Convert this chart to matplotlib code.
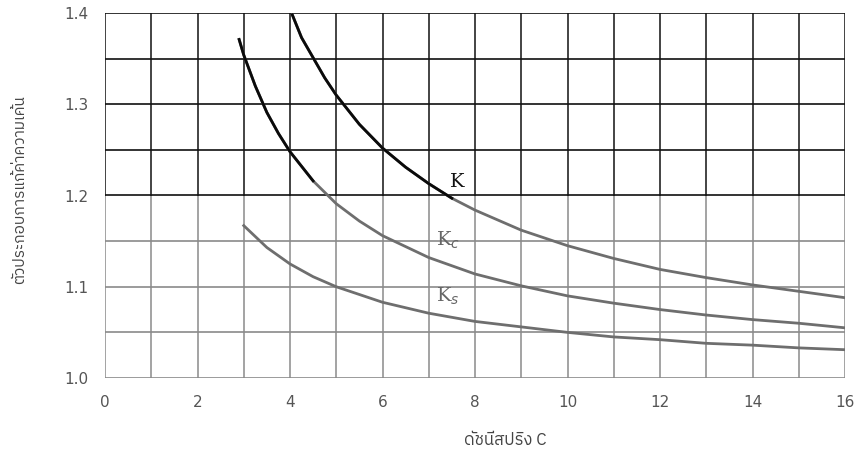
import numpy as np
import matplotlib
matplotlib.use("Agg")
import matplotlib.pyplot as plt
from matplotlib import font_manager
from matplotlib.ft2font import FT2Font

# Spring index C and correction factors
c_k = [4.05, 4.25, 4.5, 4.75, 5, 5.5, 6, 6.5, 7, 7.5, 8, 9, 10, 11, 12, 13, 14, 15, 16]
k_vals = [1.398, 1.373, 1.351, 1.329, 1.310, 1.278, 1.252, 1.231, 1.213, 1.197, 1.184,
          1.162, 1.145, 1.131, 1.119, 1.110, 1.102, 1.095, 1.088]

c_kc = [2.9, 3.0, 3.25, 3.5, 3.75, 4, 4.5, 5, 5.5, 6, 7, 8, 9, 10, 11, 12, 13, 14, 15, 16]
kc_vals = [1.371, 1.354, 1.320, 1.291, 1.268, 1.248, 1.216, 1.191, 1.172, 1.156, 1.132,
           1.114, 1.101, 1.090, 1.082, 1.075, 1.069, 1.064, 1.060, 1.055]

c_ks = [3.0, 3.5, 4, 4.5, 5, 6, 7, 8, 9, 10, 11, 12, 13, 14, 15, 16]
ks_vals = [1.167, 1.143, 1.125, 1.111, 1.100, 1.083, 1.071, 1.062, 1.056, 1.050, 1.045,
           1.042, 1.038, 1.036, 1.033, 1.031]

x_ticks = [0, 2, 4, 6, 8, 10, 12, 14, 16]
x_labels = ["0", "2", "4", "6", "8", "10", "12", "14", "16"]
y_ticks = [1.0, 1.1, 1.2, 1.3, 1.4]
y_labels = ["1.0", "1.1", "1.2", "1.3", "1.4"]

x_label = "ดัชนีสปริง C"
y_label = "ตัวประกอบการแก้ค่าความเค้น"


def find_thai_font():
    "Look for any installed font that has Thai glyphs."
    preferred = []
    others = []
    for f in font_manager.fontManager.ttflist:
        try:
            cmap = FT2Font(f.fname).get_charmap()
        except Exception:
            continue
        if 0x0E14 in cmap and 0x0E31 in cmap:
            if "Sans" in f.name or "Thai" in f.name:
                preferred.append(f.name)
            else:
                others.append(f.name)
    names = preferred + others
    return names[0] if names else "DejaVu Sans"


thai_font = find_thai_font()

fig = plt.figure(figsize=(8.59, 4.63), dpi=100)
ax = fig.add_axes([105 / 859, 1 - 378 / 463, 740 / 859, 365 / 463])

dark = "#111111"
light = "#8a8a8a"

# grid: upper half printed darker than the lower half in the scan
grid_x = np.arange(0, 17, 1)
grid_y = np.arange(1.0, 1.401, 0.05)
ax.vlines(grid_x, 1.2, 1.4, color=dark, lw=1.1, zorder=1)
ax.vlines(grid_x, 1.0, 1.2, color=light, lw=1.1, zorder=1)
for gy in grid_y:
    ax.axhline(gy, color=dark if gy > 1.19 else light, lw=1.2, zorder=1)

for cx, cy in [(c_k, k_vals), (c_kc, kc_vals), (c_ks, ks_vals)]:
    cx = np.array(cx)
    cy = np.array(cy)
    ax.plot(cx, cy, color="#6e6e6e", lw=2.0, zorder=3)
    upper = np.where(cy >= 1.195, cy, np.nan)
    ax.plot(cx, upper, color="#0a0a0a", lw=2.0, zorder=4)

ax.text(7.62, 1.215, "K", fontsize=14, family="DejaVu Serif", color="#111111",
        ha="center", va="center")
ax.text(7.42, 1.151, "K$_c$", fontsize=14, family="DejaVu Serif", color="#666666",
        ha="center", va="center")
ax.text(7.42, 1.089, "K$_s$", fontsize=14, family="DejaVu Serif", color="#666666",
        ha="center", va="center")

ax.set_xlim(0, 16)
ax.set_ylim(1.0, 1.4)
ax.set_xticks(x_ticks)
ax.set_xticklabels(x_labels)
ax.set_yticks(y_ticks)
ax.set_yticklabels(y_labels)
ax.tick_params(length=0, pad=12, labelsize=11, labelcolor="#555555")
for s in ax.spines.values():
    s.set_visible(False)

fig.text(505 / 859, 1 - 440 / 463, x_label, family=[thai_font, "DejaVu Sans"],
         fontsize=12, color="#444444", ha="center", va="center")
fig.text(20 / 859, 1 - 190 / 463, y_label, family=[thai_font, "DejaVu Sans"],
         fontsize=11, color="#444444", rotation=90, ha="center", va="center")

fig.savefig("out.png", dpi=100)
